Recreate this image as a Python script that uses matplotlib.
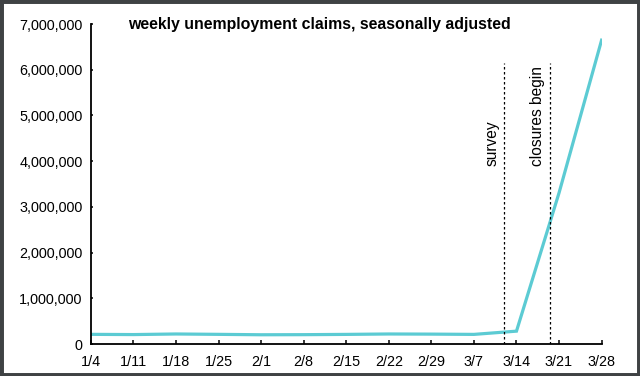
import matplotlib.pyplot as plt
from matplotlib.patches import Rectangle
from matplotlib.ticker import FuncFormatter

# weekly initial claims (week ending), 2020
week_labels = ['1/4', '1/11', '1/18', '1/25', '2/1', '2/8', '2/15',
               '2/22', '2/29', '3/7', '3/14', '3/21', '3/28']
claims = [212000, 207000, 220000, 212000, 203000, 205000, 211000,
          220000, 217000, 211000, 282000, 3307000, 6648000]

# events, in days since 1/4
event_names = ['survey', 'closures begin']
event_days = [68, 75.5]

plt.rcParams['font.family'] = ['Liberation Sans', 'DejaVu Sans']

fig = plt.figure(figsize=(6.4, 3.76), dpi=100)
ax = fig.add_axes([0.142, 0.085, 0.798, 0.851])

days = [7 * i for i in range(len(claims))]
ax.plot(days, claims, color='#5ccbd3', linewidth=2.3, solid_joinstyle='miter')

# event markers
for name, d in zip(event_names, event_days):
    ax.vlines(d, 0, 6150000, colors='black', linestyles=(0, (2, 2)), linewidth=0.9)
    ax.text(d - 2.0, 3900000, name, rotation=90, ha='center', va='bottom',
            fontsize=11.2)

ax.set_xlim(0, 84)
ax.set_ylim(0, 7000000)
ax.set_xticks(days)
ax.set_xticklabels(week_labels)
ax.set_yticks(range(0, 7000001, 1000000))
ax.yaxis.set_major_formatter(FuncFormatter(lambda v, p: f'{int(v):,}'))

ax.spines['top'].set_visible(False)
ax.spines['right'].set_visible(False)
ax.spines['left'].set_linewidth(1.3)
ax.spines['bottom'].set_linewidth(1.3)
ax.tick_params(axis='both', direction='in', labelsize=10.4, width=1.1)
ax.tick_params(axis='x', length=3, pad=8)
ax.tick_params(axis='y', length=1.5, pad=6)

ax.text(0.447, 1.0, 'weekly unemployment claims, seasonally adjusted',
        transform=ax.transAxes, ha='center', va='center',
        fontsize=11.4, fontweight='bold')

# grey frame round the picture
fig.patches.append(Rectangle((0, 0), 1, 1, transform=fig.transFigure,
                             fill=False, edgecolor='#3f4244', linewidth=5))

fig.savefig('out.png', dpi=100)
